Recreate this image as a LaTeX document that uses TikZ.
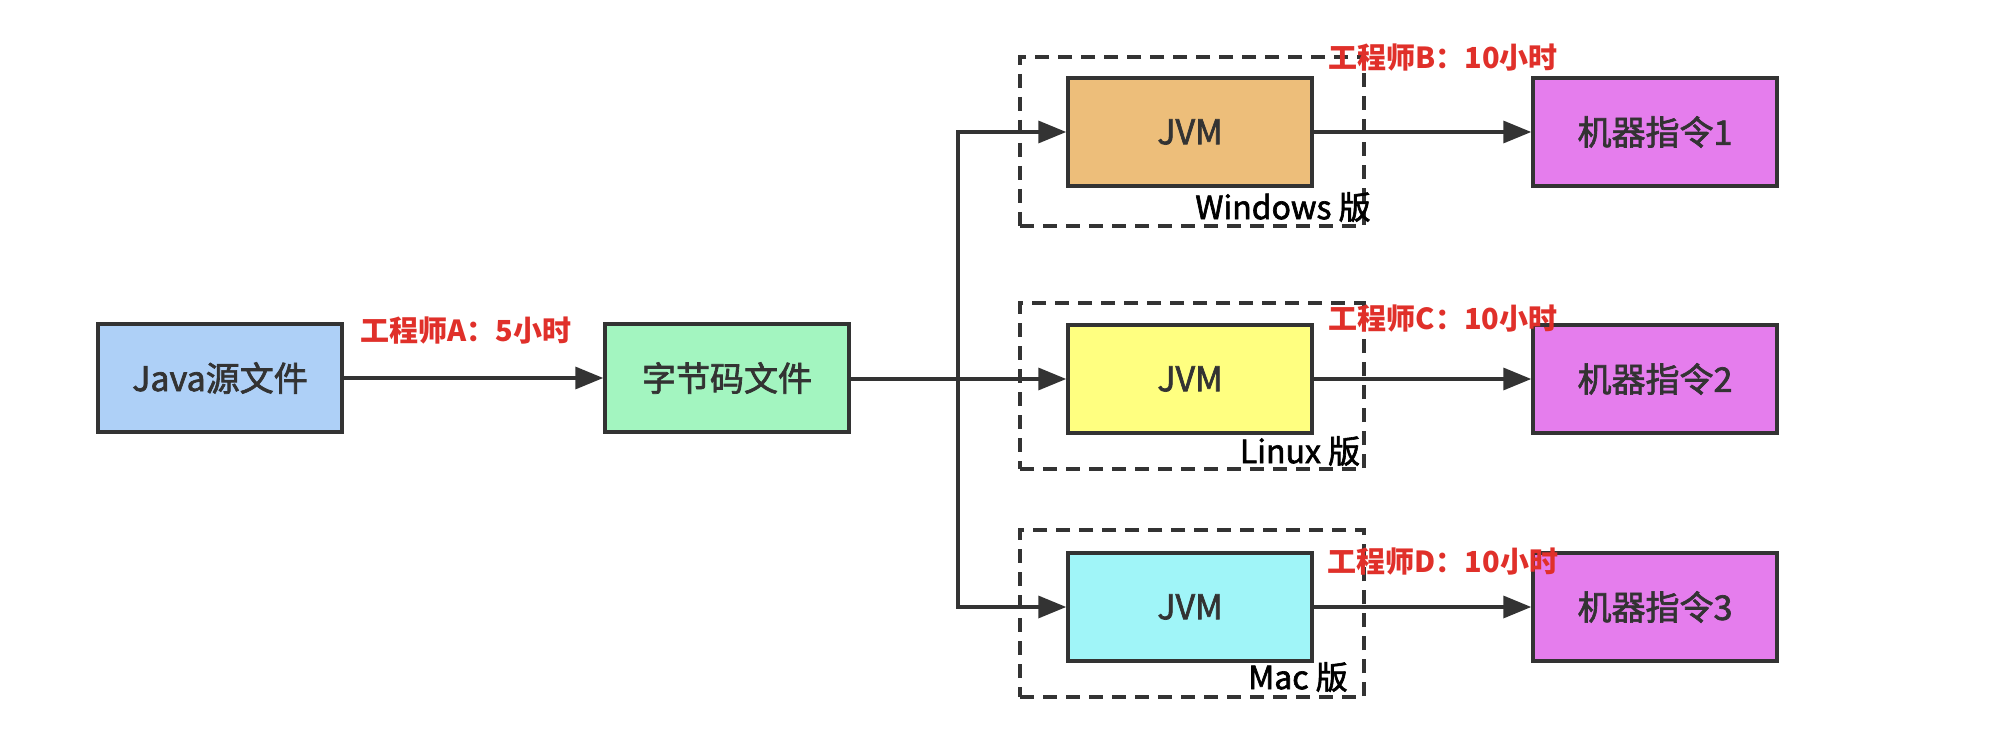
\documentclass[tikz,border=0pt]{standalone}
\usepackage{fontspec}
\setmainfont{Noto Sans CJK SC}
\newfontfamily\medfont[FakeBold=2]{Noto Sans CJK SC}
\usetikzlibrary{arrows.meta}
\definecolor{edge}{HTML}{333333}
\definecolor{cjava}{HTML}{AED0F7}
\definecolor{cbc}{HTML}{A3F5C0}
\definecolor{cwin}{HTML}{EDBE7A}
\definecolor{clin}{HTML}{FFFF80}
\definecolor{cmac}{HTML}{A0F5F8}
\definecolor{cmach}{HTML}{E57DED}
\definecolor{lab}{HTML}{E0302A}
\definecolor{txt}{HTML}{333333}
\tikzset{
  box/.style={draw=edge, line width=3.5pt, minimum width=244pt, minimum height=108pt, inner sep=0pt, font=\medfont\fontsize{34}{38}\selectfont, text=txt},
  group/.style={draw=edge, line width=3.5pt, dash pattern=on 14pt off 9pt, minimum width=344pt, inner sep=0pt},
  arr/.style={draw=edge, line width=3.5pt, -{Triangle[length=28pt,width=22pt]}},
  plain/.style={draw=edge, line width=3.5pt},
  eng/.style={text=lab, font=\fontsize{29}{32}\selectfont\bfseries, inner sep=0pt},
  ver/.style={text=black, font=\medfont\fontsize{32}{34}\selectfont, inner sep=0pt},
}
\begin{document}
\begin{tikzpicture}[x=1pt,y=-1pt]
\useasboundingbox[fill=white] (0,0) rectangle (2002,730);
% groups
\node[group, minimum height=169pt] (g1) at (1192,141.5) {};
\node[group, minimum height=166pt] (g2) at (1192,386) {};
\node[group, minimum height=167pt] (g3) at (1192,613.5) {};
% boxes
\node[box, fill=cjava] (java) at (220,378) {Java源文件};
\node[box, fill=cbc] (bc) at (727,378) {字节码文件};
\node[box, fill=cwin] (jvm1) at (1190,132) {JVM};
\node[box, fill=clin] (jvm2) at (1190,379) {JVM};
\node[box, fill=cmac] (jvm3) at (1190,607) {JVM};
\node[box, fill=cmach] (m1) at (1655,132) {机器指令1};
\node[box, fill=cmach] (m2) at (1655,379) {机器指令2};
\node[box, fill=cmach] (m3) at (1655,607) {机器指令3};
% connectors
\coordinate (j) at (958,379);
\draw[arr] (java) -- (bc);
\draw[plain] (bc.east |- j) -- (j);
\draw[arr] (j) -- (jvm2.west);
\draw[arr] (j) |- (jvm1.west);
\draw[arr] (j) |- (jvm3.west);
\draw[arr] (jvm1) -- (m1);
\draw[arr] (jvm2) -- (m2);
\draw[arr] (jvm3) -- (m3);
% labels
\node[eng] (la) at (466,331) {工程师A：5小时};
\node[eng] (lb) at (1443,58) {工程师B：10小时};
\node[eng] (lc) at (1443,319) {工程师C：10小时};
\node[eng] (ld) at (1443,562) {工程师D：10小时};
\node[ver] (vw) at (1283,207) {Windows 版};
\node[ver] (vl) at (1300,451) {Linux 版};
\node[ver] (vm) at (1298,677) {Mac 版};
\end{tikzpicture}
\end{document}
